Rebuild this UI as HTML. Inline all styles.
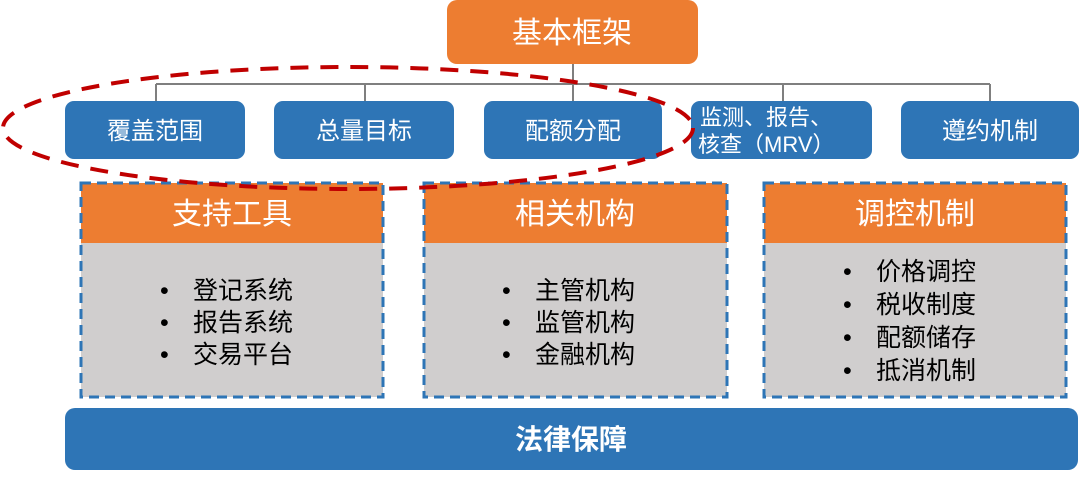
<!DOCTYPE html>
<html><head><meta charset="utf-8"><style>
html,body{margin:0;padding:0;background:#fff;}
svg text{font-family:"Liberation Sans","Noto Sans CJK SC",sans-serif;}
</style></head><body>
<svg width="1080" height="480" viewBox="0 0 1080 480" xmlns="http://www.w3.org/2000/svg">
<defs><clipPath id="c4"><rect x="691" y="101" width="181" height="58" rx="9"/></clipPath></defs>
<!-- top box -->
<rect x="447" y="0" width="251" height="64" rx="10" fill="#ED7D31"/>
<text x="572" y="43" font-size="30" fill="#fff" text-anchor="middle">基本框架</text>
<!-- connectors -->
<g stroke="#7f7f7f" stroke-width="2" fill="none">
<line x1="573" y1="64" x2="573" y2="101"/>
<line x1="156" y1="84" x2="990" y2="84"/>
<line x1="156" y1="84" x2="156" y2="101"/>
<line x1="365" y1="84" x2="365" y2="101"/>
<line x1="783" y1="84" x2="783" y2="101"/>
<line x1="990" y1="84" x2="990" y2="101"/>
</g>
<!-- blue boxes -->
<g fill="#2E75B6">
<rect x="65" y="101" width="180" height="58" rx="9"/>
<rect x="274" y="101" width="180" height="58" rx="9"/>
<rect x="484" y="101" width="178" height="58" rx="9"/>
<rect x="691" y="101" width="181" height="58" rx="9"/>
<rect x="901" y="101" width="178" height="58" rx="9"/>
</g>
<g fill="#fff" font-size="24" text-anchor="middle">
<text x="155" y="139">覆盖范围</text>
<text x="364" y="139">总量目标</text>
<text x="573" y="139">配额分配</text>
<text x="990" y="139">遵约机制</text>
</g>
<g clip-path="url(#c4)" fill="#fff" font-size="22">
<text x="700" y="125">监测、报告、</text>
<text x="698" y="152">核查（MRV）</text>
</g>
<!-- panels -->
<g>
<rect x="81" y="183" width="302" height="214" fill="#D0CECE"/>
<rect x="81" y="183" width="302" height="60" fill="#ED7D31"/>
<rect x="424" y="183" width="303" height="214" fill="#D0CECE"/>
<rect x="424" y="183" width="303" height="60" fill="#ED7D31"/>
<rect x="764" y="183" width="302" height="214" fill="#D0CECE"/>
<rect x="764" y="183" width="302" height="60" fill="#ED7D31"/>
</g>
<g fill="none" stroke="#2E75B6" stroke-width="3" stroke-dasharray="10,6">
<rect x="81" y="183" width="302" height="214"/>
<rect x="424" y="183" width="303" height="214"/>
<rect x="764" y="183" width="302" height="214"/>
</g>
<g fill="#fff" font-size="30" text-anchor="middle">
<text x="232" y="224">支持工具</text>
<text x="575" y="224">相关机构</text>
<text x="915" y="224">调控机制</text>
</g>
<g fill="#000" font-size="25">
<text x="160" y="299">•</text><text x="193" y="299">登记系统</text>
<text x="160" y="331">•</text><text x="193" y="331">报告系统</text>
<text x="160" y="363">•</text><text x="193" y="363">交易平台</text>
<text x="502" y="299">•</text><text x="535" y="299">主管机构</text>
<text x="502" y="331">•</text><text x="535" y="331">监管机构</text>
<text x="502" y="363">•</text><text x="535" y="363">金融机构</text>
<text x="843" y="280">•</text><text x="876" y="280">价格调控</text>
<text x="843" y="313">•</text><text x="876" y="313">税收制度</text>
<text x="843" y="346">•</text><text x="876" y="346">配额储存</text>
<text x="843" y="379">•</text><text x="876" y="379">抵消机制</text>
</g>
<!-- bottom bar -->
<rect x="65" y="408" width="1013" height="62" rx="10" fill="#2E75B6"/>
<text x="571" y="449" font-size="28" font-weight="bold" fill="#fff" text-anchor="middle">法律保障</text>
<!-- ellipse -->
<ellipse cx="348" cy="128" rx="345" ry="61" fill="none" stroke="#C00000" stroke-width="4" stroke-dasharray="18,12"/>
</svg>
</body></html>
